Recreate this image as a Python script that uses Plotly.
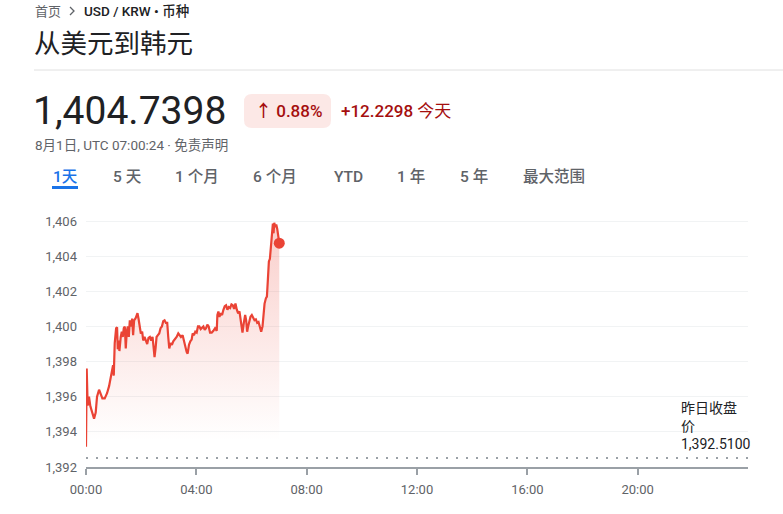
import plotly.graph_objects as go

# ---------------- data ----------------
minutes = [0, 1.5, 3.6, 6.5, 9.5, 13.8, 17.5, 21.1, 24.0, 28.4, 32.0, 35.6, 40.7, 45.8, 50.2, 53.8, 56.7, 58.9,
           60.4, 62.5, 65.5, 67.6, 69.1, 71.3, 72.7, 75.6, 77.8, 80.0, 82.2, 84.4, 86.5, 88.7, 90.9, 93.1, 95.3,
           98.2, 100.4, 102.5, 104.7, 107.6, 109.8, 112.0, 114.2, 116.4, 119.3, 122.2, 124.4, 127.3, 130.2,
           133.1, 136.0, 138.9, 141.8, 144.7, 146.9, 149.1, 151.3, 153.5, 156.4, 159.3, 162.2, 165.1, 168.0,
           170.9, 173.8, 176.7, 178.9, 181.1, 184.0, 186.9, 189.8, 193.5, 197.1, 200.7, 203.6, 206.5, 210.2,
           213.1, 216.0, 218.9, 221.1, 224.0, 226.9, 229.8, 232.0, 234.9, 237.8, 240.7, 243.6, 246.5, 249.5,
           252.4, 255.3, 258.2, 261.1, 264.0, 266.9, 269.8, 273.5, 277.1, 280.7, 284.4, 285.8, 288.0, 290.2,
           293.1, 296.0, 298.9, 301.8, 304.7, 307.6, 310.5, 313.5, 316.4, 319.3, 322.2, 325.1, 328.0, 330.9,
           333.8, 336.0, 338.2, 340.4, 343.3, 346.2, 348.4, 350.5, 352.7, 354.9, 357.8, 360.7, 363.6, 366.5,
           369.5, 372.4, 375.3, 378.2, 381.1, 384.0, 386.2, 388.4, 391.3, 393.5, 395.6, 397.8, 400.0, 402.2,
           404.4, 406.5, 408.0, 409.5, 411.6, 413.8, 416.0, 418.2, 420.4]
prices = [1393.15, 1397.6, 1395.5, 1396.0, 1395.45, 1395.1, 1394.75, 1395.1, 1396.0, 1396.4, 1396.2, 1395.9,
          1395.9, 1396.2, 1396.6, 1397.0, 1397.5, 1397.8, 1397.2, 1399.05, 1399.9, 1399.95, 1398.7, 1399.2,
          1398.6, 1399.4, 1399.7, 1399.4, 1399.9, 1400.0, 1398.75, 1399.7, 1400.0, 1399.4, 1400.35, 1400.0,
          1400.45, 1399.5, 1400.35, 1400.45, 1400.65, 1400.75, 1400.45, 1400.0, 1399.6, 1399.7, 1399.2, 1399.4,
          1399.2, 1399.0, 1399.35, 1399.4, 1399.2, 1399.4, 1398.85, 1398.25, 1398.75, 1399.4, 1399.5, 1399.6,
          1399.9, 1400.0, 1400.3, 1400.35, 1400.2, 1400.2, 1399.4, 1398.75, 1399.05, 1398.95, 1399.15, 1399.25,
          1399.4, 1399.6, 1399.5, 1399.4, 1399.5, 1399.15, 1398.85, 1398.55, 1398.45, 1398.95, 1399.15, 1399.25,
          1399.6, 1399.5, 1399.7, 1399.65, 1400.0, 1400.0, 1399.85, 1399.9, 1400.0, 1399.8, 1399.9, 1400.1,
          1400.0, 1399.65, 1399.65, 1399.75, 1399.9, 1399.75, 1400.65, 1400.85, 1400.55, 1400.75, 1400.65,
          1400.95, 1401.15, 1401.2, 1400.95, 1401.1, 1401.05, 1401.25, 1401.2, 1401.0, 1401.3, 1400.95, 1400.75,
          1400.85, 1400.45, 1400.1, 1399.65, 1400.2, 1400.65, 1400.35, 1399.7, 1400.0, 1400.25, 1400.55,
          1400.65, 1400.45, 1400.35, 1400.4, 1400.2, 1400.25, 1399.9, 1399.7, 1400.0, 1400.65, 1401.3, 1401.6,
          1401.7, 1402.65, 1403.7, 1403.85, 1404.7, 1405.55, 1405.85, 1405.3, 1405.9, 1405.65, 1405.8,
          1405.55, 1405.1, 1404.74]

tick_hours = [0, 4, 8, 12, 16, 20]
tick_labels = ["00:00", "04:00", "08:00", "12:00", "16:00", "20:00"]
y_ticks = [1392, 1394, 1396, 1398, 1400, 1402, 1404, 1406]

prev_close = 1392.51
current_price = 1404.7398
change_abs = 12.2298
change_pct = 0.88

tabs = ["1天", "5 天", "1 个月", "6 个月", "YTD", "1 年", "5 年", "最大范围"]
tab_centers = [65, 127, 197, 275, 348, 411, 474, 554]

hours = [m / 60 for m in minutes]

# ---------------- layout geometry (screen pixels) ----------------
W, H = 783, 514
L, R, T, B = 86, 748, 210, 467          # plot area in screen pixels
FONT = "Roboto, 'Noto Sans CJK SC', sans-serif"
RED = "#ea4335"


def px(x):
    return (x - L) / (R - L)


def py(y):
    return (B - y) / (B - T)


def rrect(x0, y0, x1, y1, r):
    return (f"M {px(x0 + r)},{py(y0)} L {px(x1 - r)},{py(y0)} Q {px(x1)},{py(y0)} {px(x1)},{py(y0 + r)} "
            f"L {px(x1)},{py(y1 - r)} Q {px(x1)},{py(y1)} {px(x1 - r)},{py(y1)} "
            f"L {px(x0 + r)},{py(y1)} Q {px(x0)},{py(y1)} {px(x0)},{py(y1 - r)} "
            f"L {px(x0)},{py(y0 + r)} Q {px(x0)},{py(y0)} {px(x0 + r)},{py(y0)} Z")


fig = go.Figure()
fig.add_trace(go.Scatter(
    x=hours, y=prices, mode="lines",
    line=dict(color=RED, width=2.2),
    fill="tozeroy",
    fillgradient=dict(type="vertical",
                      colorscale=[[0, "rgba(234,67,53,0)"], [1, "rgba(234,67,53,0.26)"]],
                      start=1393.5, stop=1406),
    hoverinfo="skip", showlegend=False))
fig.add_trace(go.Scatter(
    x=[hours[-1]], y=[prices[-1]], mode="markers",
    marker=dict(color=RED, size=11), hoverinfo="skip", showlegend=False))

ann = []


def text(x, y, s, size, color, weight=400, anchor="left"):
    ann.append(dict(x=px(x), y=py(y), xref="paper", yref="paper", text=s, showarrow=False,
                    xanchor=anchor, yanchor="middle",
                    font=dict(family=FONT, size=size, color=color, weight=weight)))


text(33, 11, "首页", 13, "#5f6368")
text(82, 11, "USD / KRW • 币种", 13.5, "#202124", 500)
text(32, 43, "从美元到韩元", 26.5, "#202124")
text(31, 111, f"{current_price:,.4f}", 39, "#202124")
text(288, 111, f"↑ {change_pct:.2f}%", 17, "#a50e0e", 500, anchor="center")
text(339, 111, f"+{change_abs:.4f} <span style='font-weight:400'>今天</span>", 17, "#a50e0e", 500)
text(33, 145, "8月1日, UTC 07:00:24 · 免责声明", 13.5, "#5f6368")
for i, (t, c) in enumerate(zip(tabs, tab_centers)):
    text(c, 177, t, 15.5, "#1a73e8" if i == 0 else "#5f6368", 500, anchor="center")

# previous-close label
ann.append(dict(x=px(679), y=py(454), xref="paper", yref="paper",
                text="昨日收盘<br>价<br>" + f"{prev_close:,.4f}", showarrow=False, align="left",
                xanchor="left", yanchor="bottom",
                font=dict(family=FONT, size=14, color="#202124")))

shapes = [
    dict(type="path", xref="paper", yref="paper",
         path=f"M {px(70)},{py(7)} L {px(74)},{py(11)} L {px(70)},{py(15)}",
         line=dict(color="#5f6368", width=1.3)),
    dict(type="line", xref="paper", yref="paper", x0=px(34), x1=px(783), y0=py(70), y1=py(70),
         line=dict(color="#e0e0e0", width=1)),
    dict(type="path", xref="paper", yref="paper", path=rrect(244, 94, 331, 128, 8),
         fillcolor="#fce8e6", line=dict(width=0), layer="below"),
    dict(type="rect", xref="paper", yref="paper", x0=px(52), x1=px(78), y0=py(186), y1=py(189),
         fillcolor="#1a73e8", line=dict(width=0)),
    dict(type="line", xref="x", yref="y", x0=0, x1=24, y0=prev_close, y1=prev_close,
         line=dict(color="#9aa0a6", width=2, dash="2px,8px")),
]

fig.update_layout(
    width=W, height=H, autosize=False,
    margin=dict(l=L, r=W - R, t=T, b=H - B, pad=0),
    paper_bgcolor="white", plot_bgcolor="white",
    font=dict(family=FONT, size=13, color="#5f6368"),
    annotations=ann, shapes=shapes,
    xaxis=dict(range=[0, 24], tickvals=tick_hours, ticktext=tick_labels,
               showgrid=False, zeroline=False, showline=True, linecolor="#9aa0a6", linewidth=1.5,
               ticks="outside", ticklen=6, tickwidth=2, tickcolor="#9aa0a6",
               ticklabelstandoff=4, tickfont=dict(size=13, color="#5f6368"), fixedrange=True),
    yaxis=dict(range=[1392, 1392 + (B - T) / ((B - 221) / 14)], tickvals=y_ticks, tickformat=",",
               showgrid=True, gridcolor="#f1f3f4", gridwidth=1, zeroline=False, showline=False,
               ticks="", ticklabelstandoff=8, tickfont=dict(size=13, color="#5f6368"), fixedrange=True),
    hovermode=False,
)

fig.write_html("out.html", config=dict(displayModeBar=False),
               post_script="document.body.style.margin='0';document.body.style.overflow='hidden';")
